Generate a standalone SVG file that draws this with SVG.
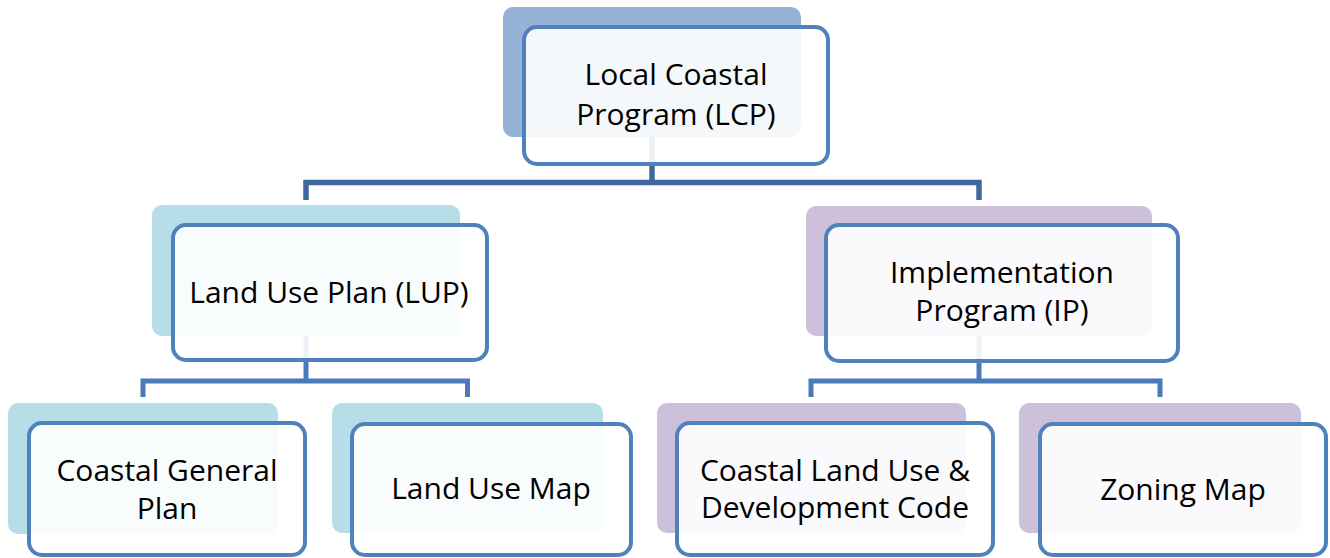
<svg xmlns="http://www.w3.org/2000/svg" width="1330" height="558" viewBox="0 0 1330 558">
<style>
.front{fill:#ffffff;fill-opacity:0.9;stroke:#4f81bd;stroke-width:4}
.b1{fill:#95b3d7}
.b2{fill:#b7dde8}
.b3{fill:#ccc0da}
.lbl{font-family:"Open Sans","Noto Sans",sans-serif;font-size:30px;fill:#000;text-anchor:middle}
.c1{fill:none;stroke:#41689c;stroke-width:5.5}
.c2{fill:none;stroke:#4a7bb7;stroke-width:5}
</style>
<rect width="1330" height="558" fill="#ffffff"/>
<g id="connectors">
<path class="c1" d="M652,130 V182.5 M306,200 V182.5 H979 V200"/>
<path class="c2" d="M306,330 V381 M143,397 V381 H467.5 V397"/>
<path class="c2" d="M979,330 V381 M811,397 V381 H1160 V397"/>
</g>
<g id="lcp">
<rect class="b1" x="503" y="7" width="298" height="130" rx="10"/>
<rect class="front" x="524" y="27" width="304" height="137" rx="13"/>
<text class="lbl" x="676" y="85">Local Coastal</text>
<text class="lbl" x="676" y="125">Program (LCP)</text>
</g>
<g id="lup">
<rect class="b2" x="152" y="205" width="308" height="131" rx="10"/>
<rect class="front" x="173" y="225" width="314" height="135" rx="13"/>
<text class="lbl" x="329" y="303">Land Use Plan (LUP)</text>
</g>
<g id="ip">
<rect class="b3" x="806" y="206" width="346" height="130" rx="10"/>
<rect class="front" x="826" y="225" width="352" height="136" rx="13"/>
<text class="lbl" x="1002" y="283">Implementation</text>
<text class="lbl" x="1002" y="321">Program (IP)</text>
</g>
<g id="cgp">
<rect class="b2" x="8" y="403" width="270" height="131" rx="10"/>
<rect class="front" x="29" y="423" width="276" height="132" rx="13"/>
<text class="lbl" x="167" y="481">Coastal General</text>
<text class="lbl" x="167" y="519">Plan</text>
</g>
<g id="lum">
<rect class="b2" x="332" y="403" width="271" height="130" rx="10"/>
<rect class="front" x="352" y="424" width="279" height="131" rx="13"/>
<text class="lbl" x="491" y="499">Land Use Map</text>
</g>
<g id="cludc">
<rect class="b3" x="657" y="403" width="309" height="130" rx="10"/>
<rect class="front" x="677" y="423" width="316" height="132" rx="13"/>
<text class="lbl" x="835" y="481">Coastal Land Use &amp;</text>
<text class="lbl" x="835" y="518">Development Code</text>
</g>
<g id="zm">
<rect class="b3" x="1019" y="403" width="282" height="130" rx="10"/>
<rect class="front" x="1040" y="424" width="286" height="131" rx="13"/>
<text class="lbl" x="1183" y="500">Zoning Map</text>
</g>
</svg>
